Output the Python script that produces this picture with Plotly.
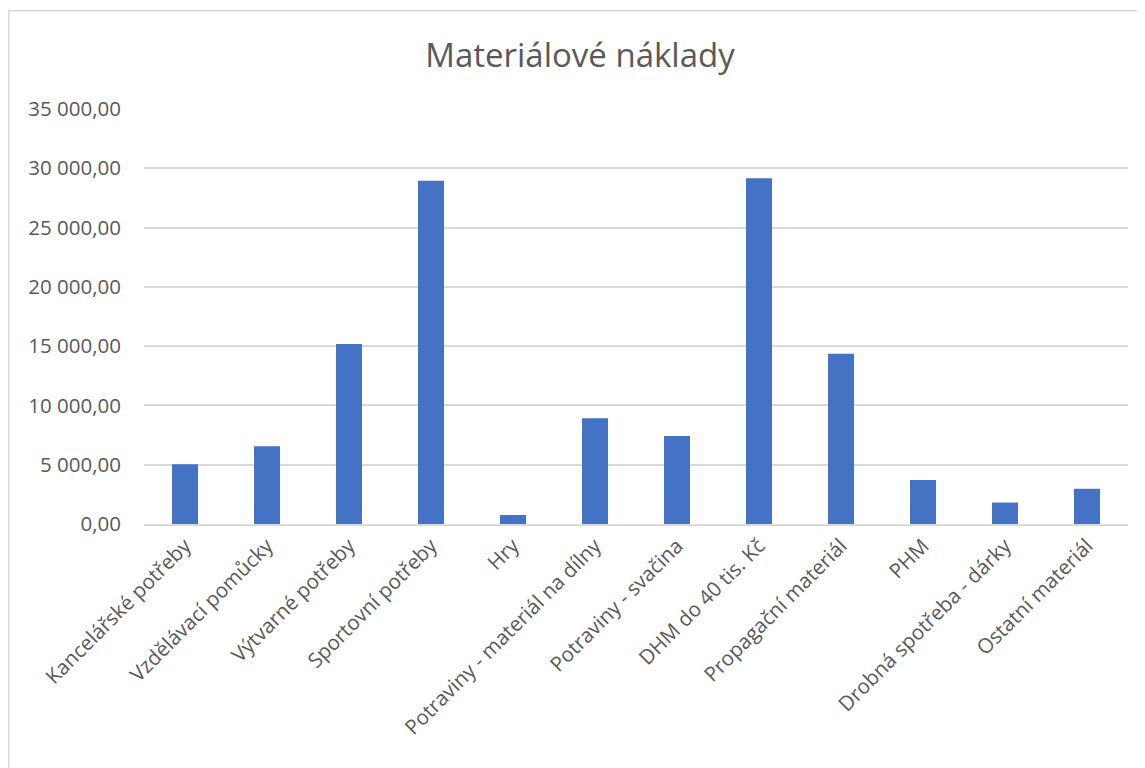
import plotly.graph_objects as go

categories = [
    "Kancelářské potřeby",
    "Vzdělávací pomůcky",
    "Výtvarné potřeby",
    "Sportovní potřeby",
    "Hry",
    "Potraviny - materiál na dílny",
    "Potraviny - svačina",
    "DHM do 40 tis. Kč",
    "Propagační materiál",
    "PHM",
    "Drobná spotřeba - dárky",
    "Ostatní materiál",
]
values = [5030, 6550, 15180, 28950, 760, 8910, 7420, 29150, 14350, 3710, 1810, 2970]
y_ticks = [0, 5000, 10000, 15000, 20000, 25000, 30000, 35000]

W, H = 1145, 768
OFF = 8  # page offset of the plot div
L, R, T, B = 144 - OFF, 17 + OFF, 109 - OFF, 243.5 + OFF
pw = W - L - R
ph = H - T - B

fig = go.Figure()
fig.add_trace(go.Bar(
    x=categories, y=values,
    marker=dict(color="#4472C4", line=dict(width=0)),
))

fig.add_shape(
    type="rect", xref="paper", yref="paper",
    x0=(0.75 - L) / pw, x1=(W + 20 - L) / pw,
    y0=(H - B - (H + 20)) / ph, y1=(H - B - 2.75) / ph,
    line=dict(color="#D9D9D9", width=1.5), fillcolor="rgba(0,0,0,0)", layer="below",
)

fig.update_layout(
    width=W, height=H,
    margin=dict(l=L, r=R, t=T, b=B, pad=0),
    paper_bgcolor="white", plot_bgcolor="white",
    separators=", ",
    bargap=0.683,
    showlegend=False,
    font=dict(family="Open Sans", color="#595959"),
    title=dict(text="Materiálové náklady", x=(580 - OFF) / W, xanchor="center",
               y=1 - (55 - OFF) / H, yanchor="middle",
               font=dict(size=33, color="#595959", family="Open Sans")),
    xaxis=dict(
        tickangle=-45, tickfont=dict(size=20.5, color="#595959"),
        showgrid=False, showline=True, linecolor="#D9D9D9", linewidth=1.5,
        ticks="", automargin=False,
    ),
    yaxis=dict(
        range=[0, 35000], tickvals=y_ticks, tickformat=",.2f",
        tickfont=dict(size=20.5, color="#595959"),
        showgrid=True, gridcolor="#D9D9D9", gridwidth=1.5,
        zeroline=False, showline=False, ticks="",
        ticklabelstandoff=22, automargin=False,
    ),
)

fig.write_html("out.html")
